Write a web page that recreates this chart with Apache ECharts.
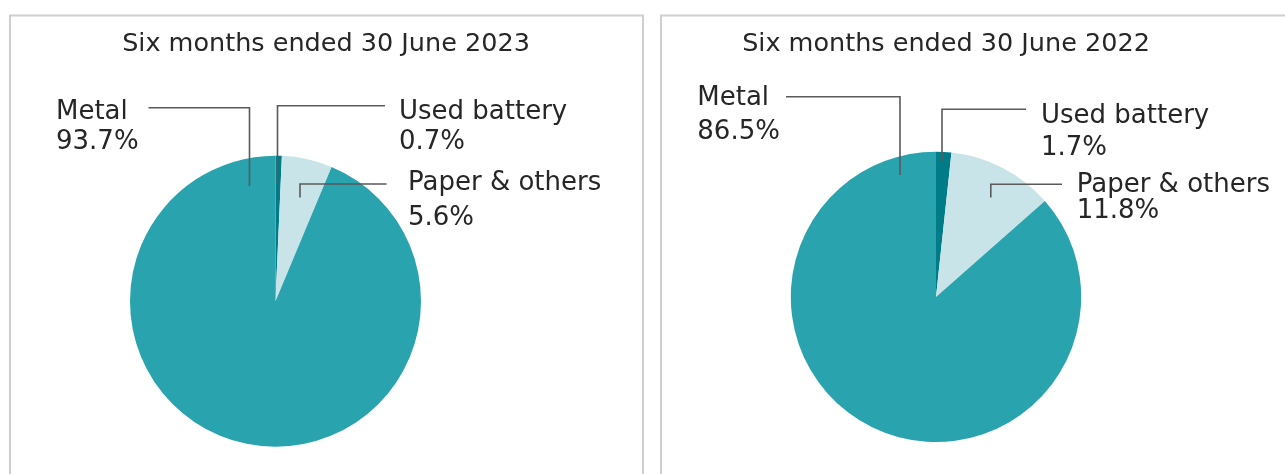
<!DOCTYPE html>
<html>
<head>
<meta charset="utf-8">
<script src="https://cdn.jsdelivr.net/npm/echarts@6/dist/echarts.min.js"></script>
<style>
html,body{margin:0;padding:0;background:#fff;}
#chart{width:1285px;height:474px;}
</style>
</head>
<body>
<div id="chart"></div>
<script>
// ---- data ----
const titles = ['Six months ended 30 June 2023', 'Six months ended 30 June 2022'];
const categories = ['Used battery', 'Paper & others', 'Metal'];
const values2023 = [0.7, 5.6, 93.7];
const values2022 = [1.7, 11.8, 86.5];

// ---- styling / layout (not data) ----
const colors = ['#007C89', '#C9E4E8', '#29A3AE'];
const FONT = '"DejaVu Sans", sans-serif';
const TEXT_COLOR = '#262626';
const LINE_COLOR = '#5a5a5a';
const pies = [
  { center: [275.5, 301.2], radius: 145.5, titleX: 326, values: values2023 },
  { center: [936, 296.9], radius: 145.2, titleX: 946, values: values2022 }
];
// label boxes per panel, per category (x, cap-top y, line height)
const labelPos = [
  [ {x: 399, cap: 102.7, lh: 30}, {x: 408, cap: 173.3, lh: 35}, {x: 56, cap: 102.7, lh: 30} ],
  [ {x: 1041, cap: 106.7, lh: 31.6}, {x: 1076.7, cap: 175, lh: 26.7}, {x: 697.3, cap: 88.3, lh: 34.4} ]
];
// leader lines per panel, per category
const leaders = [
  [ [[277.5,183],[277.5,105.8],[385,105.8]], [[300,197.5],[300,184],[386.5,184]], [[148.5,107.8],[249.5,107.8],[249.5,186]] ],
  [ [[942,161],[942,109.3],[1026,109.3]], [[990.8,197.5],[990.8,184.3],[1062,184.3]], [[786,96.8],[900,96.8],[900,175]] ]
];
const FS = 26;

const chart = echarts.init(document.getElementById('chart'), null, {renderer: 'canvas'});

const series = pies.map((p, si) => ({
  type: 'pie',
  center: p.center,
  radius: p.radius,
  startAngle: 90,
  clockwise: true,
  avoidLabelOverlap: false,
  animation: false,
  silent: true,
  itemStyle: { borderWidth: 0 },
  label: {
    show: true,
    position: 'outside',
    fontFamily: FONT,
    fontSize: FS,
    color: TEXT_COLOR,
    align: 'left',
    formatter: (q) => q.name + '\n' + q.value.toFixed(1) + '%'
  },
  labelLine: { show: false },
  labelLayout: (params) => {
    const c = labelPos[si][params.dataIndex];
    return { x: c.x, y: c.cap - c.lh / 2 + 10, align: 'left', verticalAlign: 'top', hideOverlap: false, moveOverlap: null };
  },
  data: categories.map((name, i) => ({
    name: name,
    value: p.values[i],
    itemStyle: { color: colors[i] },
    label: { lineHeight: labelPos[si][i].lh }
  }))
}));

const graphics = [];
// panel borders
graphics.push({ type: 'rect', shape: { x: 10, y: 15.5, width: 633, height: 500 }, style: { fill: null, stroke: '#cfcfcf', lineWidth: 2 }, silent: true, z: -1 });
graphics.push({ type: 'rect', shape: { x: 661, y: 15.5, width: 660, height: 500 }, style: { fill: null, stroke: '#cfcfcf', lineWidth: 2 }, silent: true, z: -1 });
// titles
pies.forEach((p, si) => {
  graphics.push({ type: 'text', x: p.titleX, y: 29.8, z: 10, silent: true,
    style: { text: titles[si], font: '25.5px ' + FONT, fill: TEXT_COLOR, align: 'center', verticalAlign: 'top', lineHeight: 30 } });
});
// leader lines
leaders.forEach(panel => panel.forEach(pts => {
  graphics.push({ type: 'polyline', shape: { points: pts }, style: { stroke: LINE_COLOR, lineWidth: 1.6, fill: null }, silent: true, z: 100 });
}));

chart.setOption({
  animation: false,
  backgroundColor: '#ffffff',
  series: series,
  graphic: { elements: graphics }
});
</script>
</body>
</html>
